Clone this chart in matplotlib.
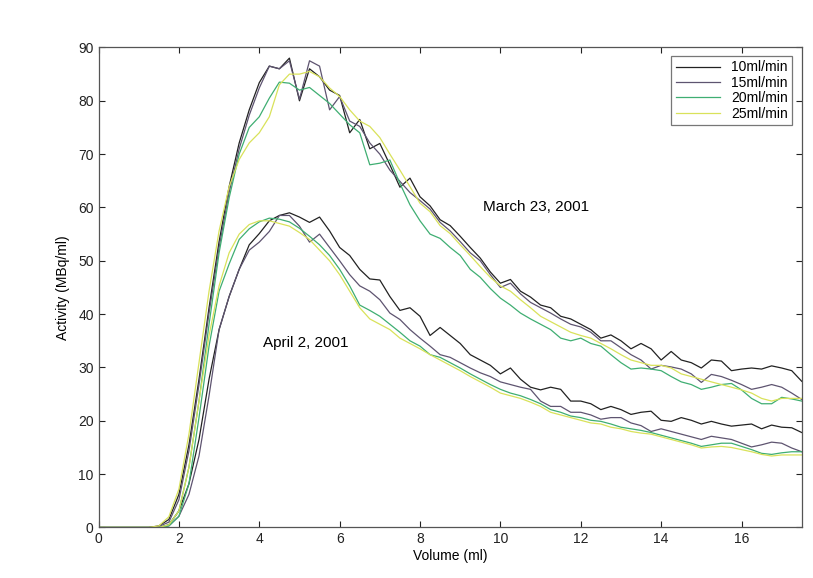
import matplotlib
matplotlib.use("Agg")
import matplotlib.pyplot as plt
import numpy as np

plt.rcParams['font.family'] = ['Liberation Sans', 'DejaVu Sans']

# volume samples (ml), every 0.25 ml
volume = np.arange(0, 17.51, 0.25)

# March 23, 2001
march_10 = [0, 0, 0, 0, 0, 0, 0.3, 1.5, 6.2, 15.5, 27.8, 41.2, 53.6, 63.9, 72.1, 78.3,
            83.4, 86.5, 86, 88, 80, 86, 84.5, 82, 81, 74, 76.5, 71, 72, 68, 63.8, 65.5,
            62, 60.3, 57.7, 56.6, 54.6, 52.5, 50.5, 47.9, 45.8, 46.5, 44.3, 43.2, 41.7, 41.2, 39.6, 39.1,
            38.1, 37.1, 35.5, 36.1, 35, 33.5, 34.5, 33.5, 31.4, 33, 31.4, 30.9, 29.9, 31.4, 31.2, 29.4,
            29.7, 29.9, 29.7, 30.3, 29.9, 29.4, 27.4]
march_15 = [0, 0, 0, 0, 0, 0, 0.2, 1, 5.2, 14.4, 26.8, 40.2, 52.5, 62.8, 71, 77.3,
            82.4, 86.5, 86, 87.5, 80.3, 87.5, 86.5, 78.3, 80.8, 76.2, 75.2, 72.1, 70, 67, 64.9, 62.8,
            61.3, 59.7, 57.2, 55.6, 53.6, 51.5, 50, 47.4, 45, 45.8, 43.8, 42.2, 41.2, 40.2, 39.1, 38.1,
            37.6, 36.6, 35, 35, 33.7, 32.4, 31.4, 29.7, 30.4, 30.1, 29.7, 28.8, 27.2, 28.7, 28.3, 27.6,
            26.8, 25.9, 26.3, 26.8, 26.3, 25.2, 24]
march_20 = [0, 0, 0, 0, 0, 0, 0, 0.5, 3.1, 11.3, 23.7, 38.1, 51.5, 61.8, 70, 75,
            77, 80.5, 83.5, 83.3, 82, 82.5, 81, 79.5, 77.5, 75.5, 74, 68, 68.3, 68.9, 64.5, 60.5,
            57.5, 55, 54.2, 52.5, 51, 48.4, 46.9, 44.8, 43, 41.7, 40.2, 39.1, 38.1, 37.1, 35.5, 35,
            35.5, 34.5, 34, 32.4, 30.9, 29.7, 29.9, 29.7, 29.4, 28.3, 27.3, 26.8, 25.9, 26.3, 26.8, 27,
            25.8, 24.2, 23.2, 23.2, 24.4, 24.1, 23.7]
march_25 = [0, 0, 0, 0, 0, 0, 0.3, 2, 7.2, 17.5, 30.9, 44.3, 55.6, 63.9, 69, 72.1,
            74, 77, 83, 85, 85, 85.5, 84.5, 82.4, 80.8, 78.3, 76.2, 75.2, 73.1, 70, 67, 63.9,
            60.8, 59.2, 56.6, 55.1, 53, 51, 48.9, 46.9, 45.3, 44.3, 42.7, 41.2, 39.6, 38.6, 37.6, 36.6,
            36, 35.5, 34.5, 33.5, 32.4, 31.4, 30.9, 30.4, 30.4, 29.9, 28.8, 28.3, 27.8, 27.3, 26.8, 26.3,
            25.8, 25.2, 24.2, 23.7, 24.2, 24.2, 24.2]

# April 2, 2001
april_10 = [0, 0, 0, 0, 0, 0, 0, 0.5, 3.1, 8.2, 16.5, 27.8, 37.1, 43.3, 48.4, 53,
            55.1, 57.5, 58.5, 59, 58.2, 57.2, 58.2, 55.6, 52.5, 51, 48.4, 46.6, 46.4, 43.3, 40.7, 41.2,
            39.6, 36, 37.5, 36, 34.5, 32.4, 31.4, 30.4, 28.8, 29.9, 27.8, 26.3, 25.8, 26.3, 25.9, 23.7,
            23.7, 23.2, 22.1, 22.7, 22.1, 21.2, 21.6, 21.8, 20.1, 19.9, 20.6, 20.1, 19.4, 19.9, 19.4, 19,
            19.2, 19.4, 18.5, 19.2, 18.8, 18.7, 17.8]
april_15 = [0, 0, 0, 0, 0, 0, 0, 0.3, 2.1, 6.2, 13.4, 24.7, 37.1, 43.3, 48.4, 52,
            53.5, 55.5, 58.5, 58.5, 56.5, 53.5, 55, 52.5, 50, 47.4, 45.3, 44.3, 42.7, 40.2, 39, 37.1,
            35.5, 34, 32.4, 31.9, 30.9, 29.9, 29, 28.3, 27.3, 26.8, 26.3, 25.9, 23.7, 22.7, 22.7, 21.6,
            21.6, 21.1, 20.3, 20.6, 20.6, 19.6, 19.1, 18, 18.5, 18, 17.5, 17, 16.5, 17.1, 16.8, 16.5,
            15.8, 15.1, 15.5, 16, 15.8, 14.9, 14.2]
april_20 = [0, 0, 0, 0, 0, 0, 0, 0.3, 2.1, 8.2, 20.6, 34, 44.3, 49.4, 54, 56,
            57.3, 58, 57.8, 57.3, 56.1, 54.6, 53, 51, 48.4, 45.3, 41.7, 40.7, 39.6, 38.1, 36.6, 35,
            34, 32.4, 31.9, 30.9, 29.9, 28.8, 27.8, 26.8, 25.9, 25.2, 24.7, 24, 23.2, 22.1, 21.6, 20.9,
            20.6, 20.1, 19.9, 19.4, 18.8, 18.5, 18.2, 17.8, 17.3, 16.8, 16.3, 15.8, 15.2, 15.5, 15.8, 15.8,
            15.2, 14.6, 13.9, 13.7, 14, 14.2, 14.2]
april_25 = [0, 0, 0, 0, 0, 0, 0, 0.5, 3.1, 11.3, 23.7, 36, 45.3, 51.5, 55, 56.8,
            57.5, 57.5, 57, 56.5, 55.3, 54, 52, 50, 47.4, 44.3, 41.2, 39.1, 38.1, 37.1, 35.5, 34.5,
            33.5, 32.4, 31.4, 30.4, 29.4, 28.3, 27.3, 26.3, 25.2, 24.7, 24.2, 23.5, 22.7, 21.6, 21.1, 20.6,
            20.1, 19.6, 19.4, 18.8, 18.5, 18, 17.7, 17.5, 17, 16.5, 16, 15.5, 14.9, 15.1, 15.2, 15,
            14.6, 14.2, 13.7, 13.4, 13.6, 13.6, 13.6]

labels = ['10ml/min', '15ml/min', '20ml/min', '25ml/min']
colors = ['#222222', '#5e5470', '#3fae72', '#d9e25a']

fig = plt.figure(figsize=(8.13, 5.78), dpi=100)
ax = fig.add_axes([0.1212, 0.0874, 0.865, 0.8305])

march = [march_10, march_15, march_20, march_25]
april = [april_10, april_15, april_20, april_25]
for i in range(4):
    ax.plot(volume, march[i], color=colors[i], lw=0.9, label=labels[i])
    ax.plot(volume, april[i], color=colors[i], lw=0.9)

ax.set_xlim(0, 17.5)
ax.set_ylim(0, 90)
ax.set_xticks(np.arange(0, 17, 2))
ax.set_yticks(np.arange(0, 91, 10))
ax.tick_params(direction='in', top=True, right=True, length=4, labelsize=10, colors='#222222')
for s in ax.spines.values():
    s.set_color('#555555')
    s.set_linewidth(0.9)

ax.set_xlabel('Volume (ml)', fontsize=10, labelpad=2)
ax.set_ylabel('Activity (MBq/ml)', fontsize=10, labelpad=6)

ax.text(10.9, 60, 'March 23, 2001', fontsize=11, ha='center', va='center')
ax.text(4.1, 34.5, 'April 2, 2001', fontsize=11, ha='left', va='center')

leg = ax.legend(loc='upper right', fontsize=10, frameon=True, fancybox=False,
                handlelength=3.2, borderpad=0.3, labelspacing=0.1,
                bbox_to_anchor=(0.996, 0.996))
leg.get_frame().set_edgecolor('#555555')
leg.get_frame().set_linewidth(0.9)

fig.savefig('out.png', dpi=100)
